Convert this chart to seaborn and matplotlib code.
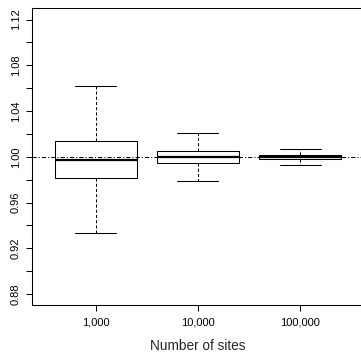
import numpy as np
import pandas as pd
import matplotlib
matplotlib.use("Agg")
import matplotlib.pyplot as plt
import matplotlib.ticker as mticker
import seaborn as sns

# five-number summaries (ratio estimates)
sites      = ["1,000", "10,000", "100,000"]
whisk_low  = [0.9333, 0.9792, 0.9930]
q1         = [0.9810, 0.9947, 0.9980]
median     = [0.9971, 0.9994, 0.9997]
q3         = [1.0134, 1.0050, 1.0015]
whisk_high = [1.0617, 1.0208, 1.0068]

# 5 points per group -> quartiles/median land exactly on the summary values
rows = []
for s, a, b, c, d, e in zip(sites, whisk_low, q1, median, q3, whisk_high):
    for v in (a, b, c, d, e):
        rows.append({"sites": s, "ratio": v})
df = pd.DataFrame(rows)

sns.set_style("ticks")
plt.rcParams.update({
    "font.family": ["Liberation Sans", "DejaVu Sans"],
    "axes.linewidth": 0.75,
    "xtick.major.width": 0.75,
    "ytick.major.width": 0.75,
    "ytick.minor.width": 0.75,
    "xtick.major.size": 4,
    "ytick.major.size": 4,
    "ytick.minor.size": 4,
    "xtick.color": "black",
    "ytick.color": "black",
    "axes.edgecolor": "black",
})

fig = plt.figure(figsize=(3.61, 3.56), dpi=100)
ax = fig.add_axes([0.0886, 0.1433, 0.919, 0.834])

sns.boxplot(data=df, x="sites", y="ratio", order=sites, whis=np.inf,
            color="white", linecolor="black", linewidth=0.75, width=0.8,
            saturation=1, ax=ax,
            whiskerprops={"linestyle": (0, (3, 2))},
            medianprops={"linewidth": 1.6})

ax.axhline(1.0, color="black", linewidth=0.75, linestyle=(0, (4, 2, 1, 2)),
           zorder=5)

ax.set_xlim(-0.623, 2.623)
ax.set_ylim(0.8704, 1.1300)
ax.yaxis.set_major_locator(mticker.FixedLocator([0.88, 0.92, 0.96, 1.00, 1.04, 1.08, 1.12]))
ax.yaxis.set_minor_locator(mticker.FixedLocator([0.90, 0.94, 0.98, 1.02, 1.06, 1.10]))
ax.yaxis.set_major_formatter(mticker.FormatStrFormatter("%.2f"))
ax.tick_params(axis="y", which="both", direction="out", labelsize=8, pad=4)
for lab in ax.get_yticklabels():
    lab.set_rotation(90)
    lab.set_va("center")
ax.tick_params(axis="x", direction="out", labelsize=8, pad=5)
ax.set_xlabel("Number of sites", fontsize=9.8, labelpad=8)
ax.set_ylabel("")
for sp in ax.spines.values():
    sp.set_visible(True)

fig.savefig("out.png", dpi=100, facecolor="white")
